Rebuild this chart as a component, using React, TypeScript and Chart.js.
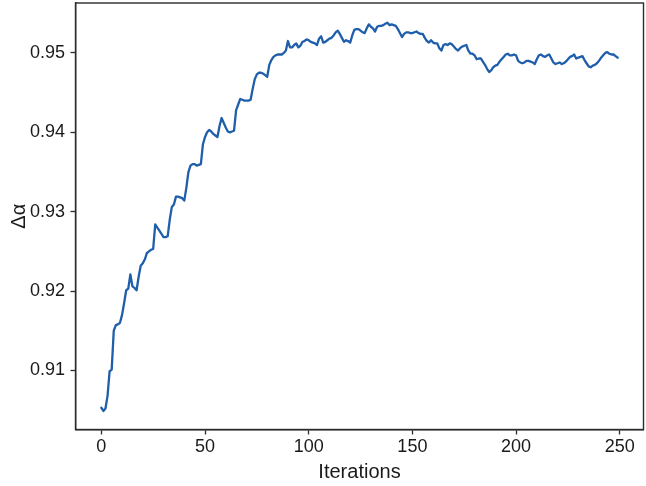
import React, { useEffect, useRef } from "react";
import { Chart, registerables } from "chart.js";

Chart.register(...registerables);

const iterations: number[] = Array.from({ length: 250 }, (_, i) => i);

const deltaAlpha: number[] = [
  0.9053, 0.9049, 0.9052, 0.9068, 0.9099, 0.9101, 0.9150, 0.9157, 0.9158, 0.9160,
  0.9170, 0.9185, 0.9201, 0.9203, 0.9221, 0.9206, 0.9204, 0.9201, 0.9218, 0.9232,
  0.9235, 0.9240, 0.9248, 0.9250, 0.9252, 0.9253, 0.9284, 0.9280, 0.9276, 0.9272,
  0.9268, 0.9268, 0.9269, 0.9290, 0.9306, 0.9309, 0.9319, 0.9319, 0.9318, 0.9317,
  0.9314, 0.9330, 0.9350, 0.9358, 0.9360, 0.9360, 0.9358, 0.9359, 0.9360, 0.9385,
  0.9394, 0.9400, 0.9403, 0.9401, 0.9398, 0.9396, 0.9394, 0.9408, 0.9418, 0.9412,
  0.9406, 0.9401, 0.9400, 0.9401, 0.9402, 0.9428, 0.9435, 0.9442, 0.9441, 0.9440,
  0.9440, 0.9440, 0.9441, 0.9455, 0.9467, 0.9473, 0.9475, 0.9475, 0.9474, 0.9472,
  0.9470, 0.9485, 0.9491, 0.9495, 0.9497, 0.9498, 0.9498, 0.9498, 0.9500, 0.9503,
  0.9515, 0.9507, 0.9507, 0.9510, 0.9512, 0.9507, 0.9509, 0.9514, 0.9515, 0.9517,
  0.9516, 0.9514, 0.9513, 0.9512, 0.9510, 0.9518, 0.9521, 0.9513, 0.9514, 0.9516,
  0.9518, 0.9519, 0.9522, 0.9526, 0.9528, 0.9524, 0.9519, 0.9514, 0.9516, 0.9515,
  0.9513, 0.9522, 0.9529, 0.9530, 0.9530, 0.9528, 0.9526, 0.9525, 0.9531, 0.9536,
  0.9533, 0.9531, 0.9527, 0.9533, 0.9534, 0.9534, 0.9535, 0.9537, 0.9538, 0.9535,
  0.9536, 0.9535, 0.9534, 0.9530, 0.9525, 0.9520, 0.9524, 0.9526, 0.9526, 0.9525,
  0.9525, 0.9526, 0.9527, 0.9525, 0.9524, 0.9524, 0.9519, 0.9515, 0.9513, 0.9516,
  0.9513, 0.9512, 0.9512, 0.9506, 0.9503, 0.9510, 0.9511, 0.9510, 0.9512, 0.9511,
  0.9508, 0.9505, 0.9503, 0.9506, 0.9508, 0.9509, 0.9510, 0.9503, 0.9499, 0.9499,
  0.9497, 0.9492, 0.9493, 0.9493, 0.9489, 0.9485, 0.9480, 0.9476, 0.9478, 0.9482,
  0.9484, 0.9485, 0.9489, 0.9492, 0.9495, 0.9498, 0.9499, 0.9497, 0.9497, 0.9498,
  0.9497, 0.9490, 0.9488, 0.9487, 0.9488, 0.9490, 0.9490, 0.9489, 0.9488, 0.9486,
  0.9492, 0.9497, 0.9498, 0.9496, 0.9495, 0.9497, 0.9498, 0.9493, 0.9488, 0.9486,
  0.9487, 0.9488, 0.9486, 0.9487, 0.9489, 0.9492, 0.9495, 0.9496, 0.9498, 0.9493,
  0.9494, 0.9495, 0.9496, 0.9491, 0.9487, 0.9483, 0.9482, 0.9484, 0.9485, 0.9487,
  0.9490, 0.9494, 0.9497, 0.9500, 0.9501, 0.9499, 0.9498, 0.9498, 0.9496, 0.9494,
];

const xTicks: number[] = [0, 50, 100, 150, 200, 250];
const yTicks: number[] = [0.91, 0.92, 0.93, 0.94, 0.95];

const AXIS_COLOR = "#2b2b2b";
const TEXT_COLOR = "#1a1a1a";
const LINE_COLOR = "#1f5eaa";
const FONT = "'Liberation Sans', Arial, sans-serif";

const boxPlugin = {
  id: "boxPlugin",
  afterDraw(chart: any) {
    const { ctx, chartArea } = chart;
    ctx.save();
    ctx.strokeStyle = AXIS_COLOR;
    ctx.lineWidth = 1.4;
    ctx.strokeRect(chartArea.left, chartArea.top, chartArea.right - chartArea.left, chartArea.bottom - chartArea.top);
    ctx.restore();
  },
};

export default function App() {
  const ref = useRef<HTMLCanvasElement | null>(null);

  useEffect(() => {
    if (!ref.current) return;
    const points = iterations.map((x, i) => ({ x, y: deltaAlpha[i] }));
    const chart = new Chart(ref.current, {
      type: "line",
      data: {
        datasets: [
          {
            data: points,
            borderColor: LINE_COLOR,
            borderWidth: 2.3,
            pointRadius: 0,
            tension: 0,
            fill: false,
            borderJoinStyle: "round",
            borderCapStyle: "round",
          },
        ],
      },
      options: {
        animation: false,
        responsive: false,
        maintainAspectRatio: false,
        layout: { padding: { left: 0, top: 3, right: 2.5, bottom: 0 } },
        plugins: { legend: { display: false }, tooltip: { enabled: false } },
        scales: {
          x: {
            type: "linear",
            min: -12.45,
            max: 261.45,
            afterBuildTicks: (s: any) => {
              s.ticks = xTicks.map((v) => ({ value: v }));
            },
            afterFit: (s: any) => {
              s.height = 56.5;
              s.paddingLeft = 0;
              s.paddingRight = 0;
            },
            grid: {
              display: true,
              drawOnChartArea: false,
              drawTicks: true,
              tickLength: 5,
              color: AXIS_COLOR,
              tickColor: AXIS_COLOR,
              tickWidth: 1.3,
            },
            border: { display: true, color: AXIS_COLOR, width: 1.4 },
            ticks: {
              color: TEXT_COLOR,
              font: { family: FONT, size: 18 },
              padding: 2,
              maxRotation: 0,
              autoSkip: false,
              callback: (v: any) => String(v),
            },
            title: {
              display: true,
              text: "Iterations",
              color: TEXT_COLOR,
              font: { family: FONT, size: 20 },
              padding: { top: 0, bottom: 2 },
            },
          },
          y: {
            type: "linear",
            min: 0.90256,
            max: 0.95629,
            afterBuildTicks: (s: any) => {
              s.ticks = yTicks.map((v) => ({ value: v }));
            },
            afterFit: (s: any) => {
              s.width = 75.5;
              s.paddingTop = 0;
              s.paddingBottom = 0;
            },
            grid: {
              display: true,
              drawOnChartArea: false,
              drawTicks: true,
              tickLength: 5,
              color: AXIS_COLOR,
              tickColor: AXIS_COLOR,
              tickWidth: 1.3,
            },
            border: { display: true, color: AXIS_COLOR, width: 1.4 },
            ticks: {
              color: TEXT_COLOR,
              font: { family: FONT, size: 18 },
              padding: 5.5,
              autoSkip: false,
              callback: (v: any) => Number(v).toFixed(2),
            },
            title: {
              display: true,
              text: "Δα",
              color: TEXT_COLOR,
              font: { family: FONT, size: 20 },
              padding: { top: 7, bottom: 0 },
            },
          },
        },
      },
      plugins: [boxPlugin],
    });
    return () => chart.destroy();
  }, []);

  return (
    <div style={{ position: "fixed", left: 0, top: 0, width: 646, height: 486, background: "#fff" }}>
      <canvas ref={ref} width={646} height={486} style={{ display: "block", width: 646, height: 486 }} />
    </div>
  );
}
